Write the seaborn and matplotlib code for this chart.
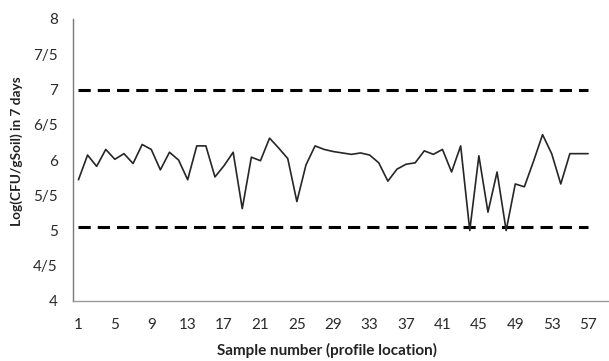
import matplotlib
matplotlib.use("Agg")
import matplotlib.pyplot as plt
import numpy as np
import pandas as pd
import seaborn as sns

# Sample numbers along the profile
samples = list(range(1, 58))

# Log(CFU/g soil) after 7 days for each sample
log_cfu = [
    5.72, 6.07, 5.91, 6.15, 6.01, 6.09, 5.95, 6.22, 6.15, 5.86,
    6.11, 6.00, 5.72, 6.20, 6.20, 5.76, 5.92, 6.11, 5.31, 6.04,
    5.99, 6.31, 6.17, 6.02, 5.41, 5.93, 6.20, 6.15, 6.12, 6.10,
    6.08, 6.10, 6.07, 5.96, 5.70, 5.87, 5.94, 5.96, 6.13, 6.08,
    6.15, 5.83, 6.20, 5.00, 6.06, 5.26, 5.83, 5.00, 5.66, 5.62,
    5.98, 6.36, 6.09, 5.66, 6.09, 6.09, 6.09,
]

# Reference limits drawn as dashed lines
upper_limit = 7.0
lower_limit = 5.05

y_ticks = [4, 4.5, 5, 5.5, 6, 6.5, 7, 7.5, 8]
y_tick_labels = ["4", "4/5", "5", "5/5", "6", "6/5", "7", "7/5", "8"]
x_ticks = list(range(1, 58, 4))

sns.set_style("white")
plt.rcParams["font.family"] = ["Lato", "DejaVu Sans"]

W, H = 609, 361
fig = plt.figure(figsize=(W / 100, H / 100), dpi=100)
ax = fig.add_axes([73 / W, 60 / H, (W - 73) / W, (301 - 19) / H])

df = pd.DataFrame({"sample": samples, "log_cfu": log_cfu})
limits = pd.DataFrame({
    "sample": samples,
    "upper": [upper_limit] * len(samples),
    "lower": [lower_limit] * len(samples),
})

dash = (0, (4.0, 2.3))
sns.lineplot(data=limits, x="sample", y="upper", ax=ax, color="black",
             linewidth=2.2, linestyle=dash, solid_capstyle="butt")
sns.lineplot(data=limits, x="sample", y="lower", ax=ax, color="black",
             linewidth=2.2, linestyle=dash, solid_capstyle="butt")
sns.lineplot(data=df, x="sample", y="log_cfu", ax=ax, color="#262626",
             linewidth=1.2)

ax.set_xlim(0.4, 59.3)
ax.set_ylim(4, 8)
ax.set_xticks(x_ticks)
ax.set_xticklabels([str(v) for v in x_ticks])
ax.set_yticks(y_ticks)
ax.set_yticklabels(y_tick_labels)

for side in ("top", "right"):
    ax.spines[side].set_visible(False)
ax.spines["left"].set_color("#7a7a7a")
ax.spines["bottom"].set_color("#9a9a9a")
ax.spines["left"].set_linewidth(1.0)
ax.spines["bottom"].set_linewidth(1.0)

ax.tick_params(axis="y", length=0, pad=11, labelsize=11, labelcolor="#2a2a2a")
ax.tick_params(axis="x", length=0, pad=12, labelsize=11, labelcolor="#2a2a2a")

ax.set_xlabel("Sample number (profile location)", fontweight="bold",
              fontsize=11, color="#222222", va="center")
ax.xaxis.set_label_coords((327 - 73) / (W - 73), (301 - 350) / 282)
ax.set_ylabel("Log(CFU/gSoil) in 7 days", fontweight="bold",
              fontsize=9.8, color="#222222", va="center", ha="center")
ax.yaxis.set_label_coords((17 - 73) / (W - 73), (301 - 151) / 282)

ax.grid(False)
fig.savefig("out.png", dpi=100)
